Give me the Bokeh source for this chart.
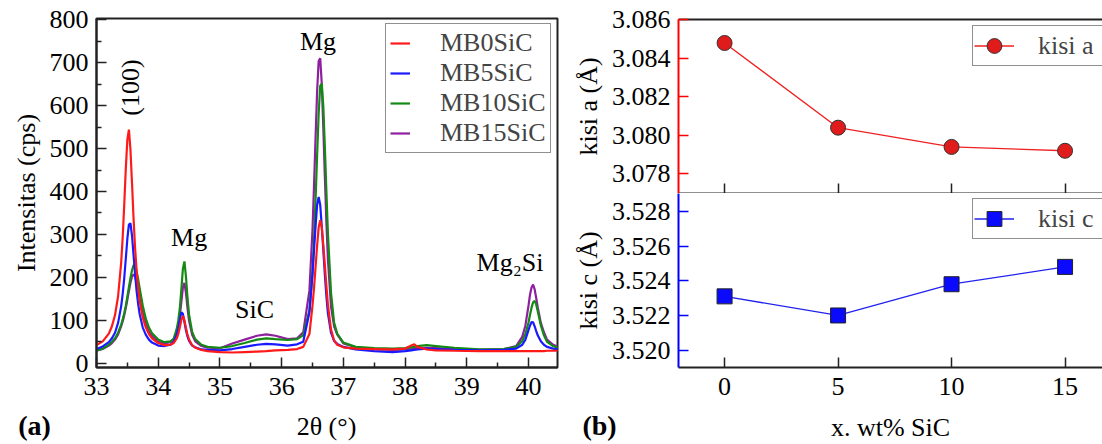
import math
from bokeh.plotting import figure
from bokeh.layouts import row, column
from bokeh.models import (Legend, LegendItem, Label, FixedTicker, LinearAxis,
                          Range1d, PrintfTickFormatter)
from bokeh.core.properties import value
from bokeh.embed import file_html
from bokeh.resources import INLINE

# ---------------- data ----------------
two_theta = [
    33.00, 33.10, 33.20, 33.25, 33.30, 33.35, 33.40, 33.425, 33.45, 33.475,
    33.50, 33.525, 33.55, 33.575, 33.60, 33.625, 33.65, 33.675, 33.70, 33.75,
    33.80, 33.85, 33.90, 34.00, 34.10, 34.20, 34.25, 34.30, 34.325, 34.35,
    34.375, 34.40, 34.425, 34.45, 34.475, 34.50, 34.55, 34.60, 34.70, 34.80,
    35.00, 35.20, 35.40, 35.60, 35.75, 35.90, 36.10, 36.25, 36.35, 36.45,
    36.50, 36.525, 36.55, 36.575, 36.60, 36.625, 36.65, 36.675, 36.70, 36.725,
    36.75, 36.80, 36.85, 36.90, 37.00, 37.20, 37.50, 37.80, 38.00, 38.10,
    38.15, 38.20, 38.35, 38.50, 38.80, 39.20, 39.60, 39.80, 39.90, 39.95,
    40.00, 40.025, 40.05, 40.075, 40.10, 40.125, 40.15, 40.20, 40.25, 40.30,
    40.40, 40.50]

mb0sic = [
    42, 51, 69, 86, 112, 156, 235, 295, 371, 454,
    521, 544, 498, 421, 339, 269, 216, 175, 145, 106,
    83, 68, 58, 47, 42, 43, 47, 58, 68, 83,
    101, 110, 100, 82, 66, 55, 42, 36, 31, 28,
    26, 25, 26, 27, 28, 30, 31, 33, 38, 68,
    134, 176, 225, 274, 317, 333, 317, 276, 229, 180,
    136, 79, 53, 43, 37, 34, 33, 32, 34, 41,
    44, 38, 32, 30, 29, 28, 28, 28, 28, 28,
    28, 28, 28, 28, 28, 28, 28, 28, 28, 29,
    29, 29]

mb5sic = [
    33, 39, 49, 58, 71, 94, 133, 162, 199, 244,
    290, 323, 326, 298, 253, 208, 168, 138, 114, 83,
    66, 55, 48, 41, 40, 43, 50, 66, 81, 101,
    119, 115, 96, 76, 62, 52, 41, 37, 32, 31,
    30, 33, 38, 43, 45, 44, 41, 44, 50, 118,
    207, 264, 320, 369, 387, 369, 320, 264, 207, 157,
    116, 71, 52, 45, 38, 32, 28, 26, 28, 30,
    31, 32, 34, 33, 31, 30, 31, 34, 43, 55,
    77, 88, 96, 95, 86, 75, 65, 51, 43, 38,
    34, 32]

mb10sic = [
    30, 34, 43, 50, 58, 71, 90, 102, 117, 134,
    155, 177, 198, 216, 228, 229, 214, 196, 174, 134,
    103, 83, 70, 55, 49, 51, 57, 80, 99, 128,
    172, 220, 237, 201, 152, 113, 73, 56, 43, 38,
    36, 40, 47, 55, 58, 56, 54, 56, 65, 123,
    212, 288, 382, 485, 582, 646, 651, 599, 505, 401,
    302, 164, 95, 69, 48, 38, 35, 34, 35, 37,
    38, 40, 42, 40, 36, 32, 33, 38, 52, 68,
    95, 113, 130, 142, 145, 137, 121, 88, 65, 50,
    40, 35]

mb15sic = [
    29, 33, 41, 47, 55, 67, 86, 98, 112, 129,
    148, 168, 187, 202, 207, 202, 188, 170, 151, 116,
    91, 73, 63, 50, 46, 49, 55, 72, 87, 110,
    143, 176, 187, 163, 128, 99, 66, 51, 40, 36,
    35, 46, 55, 64, 67, 64, 56, 58, 72, 169,
    311, 415, 527, 634, 704, 710, 652, 550, 436, 329,
    242, 132, 86, 67, 46, 37, 33, 31, 32, 33,
    34, 35, 36, 35, 33, 31, 33, 40, 62, 88,
    134, 160, 177, 183, 172, 152, 130, 94, 72, 55,
    43, 37]

series_names = ["MB0SiC", "MB5SiC", "MB10SiC", "MB15SiC"]

x_ticks_xrd = [33, 34, 35, 36, 37, 38, 39, 40]
y_ticks_xrd = [0, 100, 200, 300, 400, 500, 600, 700, 800]

wt_sic = [0, 5, 10, 15]
kisi_a = [3.0848, 3.0804, 3.0794, 3.0792]
kisi_c = [3.5231, 3.5220, 3.5238, 3.5248]
a_ticks = [3.078, 3.080, 3.082, 3.084, 3.086]
c_ticks = [3.520, 3.522, 3.524, 3.526, 3.528]

# ---------------- styles ----------------
FONT = "Liberation Serif"
FS = "26px"
DARK = "#222222"
COLORS = ["#ff1a1a", "#1a1aff", "#138a13", "#8e1f9e"]


def style_axis(ax, color=DARK, minor=True):
    ax.axis_line_color = color
    ax.axis_line_width = 2
    ax.major_tick_in = 10
    ax.major_tick_out = 0
    ax.major_tick_line_color = color
    ax.major_tick_line_width = 1.5
    if minor:
        ax.minor_tick_in = 5
        ax.minor_tick_out = 0
        ax.minor_tick_line_color = color
        ax.minor_tick_line_width = 1.5
    else:
        ax.minor_tick_line_color = None
    ax.major_label_text_font = FONT
    ax.major_label_text_font_size = FS
    ax.major_label_text_color = "black"
    ax.axis_label_text_font = FONT
    ax.axis_label_text_font_size = FS
    ax.axis_label_text_font_style = "normal"
    ax.axis_label_text_color = "black"


# ---------------- panel (a) ----------------
p1 = figure(width=560, height=407, x_range=Range1d(33, 40.47),
            y_range=Range1d(-10, 803), output_backend="svg",
            toolbar_location=None, min_border_left=96, min_border_right=3,
            min_border_top=18, min_border_bottom=40)
p1.xgrid.visible = False
p1.ygrid.visible = False
p1.outline_line_color = DARK
p1.outline_line_width = 2
p1.background_fill_color = "white"
p1.border_fill_color = "white"

p1.xaxis.ticker = FixedTicker(ticks=x_ticks_xrd,
                              minor_ticks=[t + 0.5 for t in x_ticks_xrd])
p1.yaxis.ticker = FixedTicker(ticks=y_ticks_xrd,
                              minor_ticks=[t + 50 for t in y_ticks_xrd[:-1]])
style_axis(p1.xaxis[0])
style_axis(p1.yaxis[0])
p1.yaxis.axis_label = "Intensitas (cps)"
p1.xaxis.major_label_standoff = 10
p1.yaxis.major_label_standoff = 8
p1.yaxis.axis_label_standoff = 6

series = [mb0sic, mb5sic, mb10sic, mb15sic]
renderers = {}
for idx in [3, 2, 1, 0]:
    renderers[idx] = p1.line(two_theta, series[idx], line_color=COLORS[idx],
                             line_width=2.2)

leg1 = Legend(items=[LegendItem(label=series_names[i], renderers=[renderers[i]])
                     for i in range(4)],
              location=(289, 214))
leg1.label_text_font = FONT
leg1.label_text_font_size = FS
leg1.glyph_width = 20
leg1.glyph_height = 20
leg1.label_standoff = 30
leg1.spacing = -2
leg1.padding = 4
leg1.margin = 0
leg1.border_line_color = DARK
leg1.border_line_width = 1.5
p1.add_layout(leg1)

ann_kw = dict(text_font=FONT, text_font_size=FS, text_align="center",
              text_baseline="middle", text_color="black")
p1.add_layout(Label(x=33.545, y=642, text="(100)", angle=math.pi / 2, **ann_kw))
p1.add_layout(Label(x=36.59, y=749, text="Mg", **ann_kw))
p1.add_layout(Label(x=34.50, y=293, text="Mg", **ann_kw))
p1.add_layout(Label(x=35.56, y=125, text="SiC", **ann_kw))
p1.add_layout(Label(x=39.70, y=234, text="Mg₂Si", **ann_kw))

# ---------------- panel (b) top ----------------
p2 = figure(width=542, height=193, x_range=Range1d(-2.03, 16.65),
            y_range=Range1d(3.07698, 3.08602), output_backend="svg",
            toolbar_location=None, min_border_left=118, min_border_right=0,
            min_border_top=19, min_border_bottom=0)
p2.xgrid.visible = False
p2.ygrid.visible = False
p2.outline_line_color = None
p2.xaxis.ticker = FixedTicker(ticks=wt_sic)
p2.yaxis.ticker = FixedTicker(ticks=a_ticks)
p2.yaxis.formatter = PrintfTickFormatter(format="%.3f")
style_axis(p2.xaxis[0], minor=False)
style_axis(p2.yaxis[0], color="#ff0000", minor=False)
p2.yaxis.major_label_text_color = "black"
p2.xaxis.major_label_text_font_size = "0px"
p2.xaxis.major_label_text_color = None
p2.xaxis.major_label_standoff = 0
p2.yaxis.axis_label = "kisi a (Å)"
p2.yaxis.major_label_standoff = 8
p2.yaxis.axis_label_standoff = 6
top_ax = LinearAxis(ticker=FixedTicker(ticks=[]), axis_line_color=DARK,
                    axis_line_width=2, major_label_text_font_size="0px",
                    major_label_text_color=None,
                    major_label_standoff=0, major_tick_line_color=None,
                    minor_tick_line_color=None)
p2.add_layout(top_ax, "above")

ra_line = p2.line(wt_sic, kisi_a, line_color="#ee2222", line_width=1.3)
ra_pts = p2.scatter(wt_sic, kisi_a, marker="circle", size=15,
                    fill_color="#e01b1b", line_color="#333333", line_width=1)
leg2 = Legend(items=[LegendItem(label="kisi a", renderers=[ra_line, ra_pts])],
              location=(294, 127))

# ---------------- panel (b) bottom ----------------
p3 = figure(width=542, height=214, x_range=Range1d(-2.03, 16.65),
            y_range=Range1d(3.519, 3.52903), output_backend="svg",
            toolbar_location=None, min_border_left=118, min_border_right=0,
            min_border_top=0, min_border_bottom=40)
p3.xgrid.visible = False
p3.ygrid.visible = False
p3.outline_line_color = None
p3.xaxis.ticker = FixedTicker(ticks=wt_sic)
p3.yaxis.ticker = FixedTicker(ticks=c_ticks)
p3.yaxis.formatter = PrintfTickFormatter(format="%.3f")
style_axis(p3.xaxis[0], minor=False)
style_axis(p3.yaxis[0], color="#0000ff", minor=False)
p3.yaxis.major_label_text_color = "black"
p3.yaxis.axis_label = "kisi c (Å)"
p3.xaxis.major_label_standoff = 10
p3.yaxis.major_label_standoff = 8
p3.yaxis.axis_label_standoff = 6

rc_line = p3.line(wt_sic, kisi_c, line_color="#2222ee", line_width=1.3)
rc_pts = p3.scatter(wt_sic, kisi_c, marker="square", size=15,
                    fill_color="#0a0aff", line_color="#222222", line_width=1)
leg3 = Legend(items=[LegendItem(label="kisi c", renderers=[rc_line, rc_pts])],
              location=(294, 128))

for lg, pp in ((leg2, p2), (leg3, p3)):
    lg.label_text_font = FONT
    lg.label_text_font_size = FS
    lg.glyph_width = 40
    lg.glyph_height = 37
    lg.label_standoff = 24
    lg.label_width = 68
    lg.spacing = 0
    lg.padding = 1
    lg.margin = 0
    lg.border_line_color = DARK
    lg.border_line_width = 1.5
    pp.add_layout(lg)

# ---------------- bottom strip: panel tags and x-axis titles ----------------
strip = figure(width=1102, height=37, x_range=Range1d(0, 1102),
               y_range=Range1d(37, 0), output_backend="svg",
               toolbar_location=None, x_axis_location=None,
               y_axis_location=None, min_border=0)
strip.xgrid.visible = False
strip.ygrid.visible = False
strip.outline_line_color = None
strip.text(x=[326, 890], y=[19, 20], text=["2θ (°)", "x. wt% SiC"],
           text_font=value(FONT), text_font_size=value(FS),
           text_align="center", text_baseline="middle", text_color="black")
strip.text(x=[34, 599], y=[18, 18], text=["(a)", "(b)"],
           text_font=value(FONT), text_font_size=value("28px"),
           text_font_style="bold", text_align="center",
           text_baseline="middle", text_color="black")

layout = column(row(p1, column(p2, p3, spacing=0), spacing=0), strip,
                spacing=0)
open("out.html", "w").write(file_html(layout, INLINE))
